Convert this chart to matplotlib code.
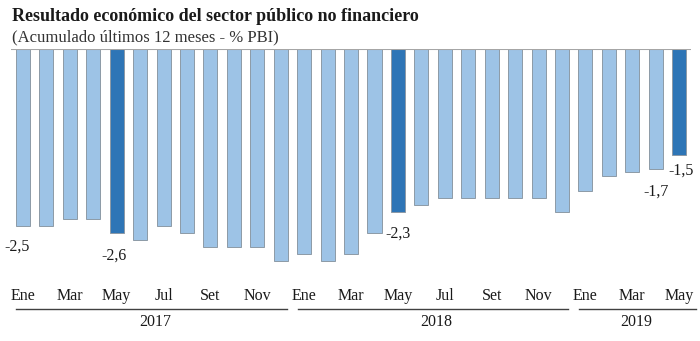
import numpy as np
import matplotlib.pyplot as plt

# Resultado económico del SPNF, acumulado 12 meses (% del PBI)
meses = ['Ene', 'Feb', 'Mar', 'Abr', 'May', 'Jun', 'Jul', 'Ago', 'Set', 'Oct', 'Nov', 'Dic',
         'Ene', 'Feb', 'Mar', 'Abr', 'May', 'Jun', 'Jul', 'Ago', 'Set', 'Oct', 'Nov', 'Dic',
         'Ene', 'Feb', 'Mar', 'Abr', 'May']
valores = [-2.5, -2.5, -2.4, -2.4, -2.6, -2.7, -2.5, -2.6, -2.8, -2.8, -2.8, -3.0,
           -2.9, -3.0, -2.9, -2.6, -2.3, -2.2, -2.1, -2.1, -2.1, -2.1, -2.1, -2.3,
           -2.0, -1.8, -1.73, -1.7, -1.5]
destacados = [4, 16, 28]            # meses de mayo
etiquetas = {0: '-2,5', 4: '-2,6', 16: '-2,3', 27: '-1,7', 28: '-1,5'}
anios = ['2017', '2018', '2019']
anio_rango = [(0, 11), (12, 23), (24, 28)]

plt.rcParams['font.family'] = ['Liberation Serif', 'DejaVu Serif']

fig = plt.figure(figsize=(7, 3.41), dpi=100)
ax = fig.add_axes([0.016, 0.1642, 0.971, 0.6921])

x = np.arange(len(valores))
colores = ['#2e75b6' if i in destacados else '#9dc3e6' for i in x]
ax.bar(x, valores, width=0.6, color=colores, edgecolor='#8d9aa6', linewidth=0.7, zorder=2)
ax.axhline(0, color='#a6a6a6', linewidth=1.5, zorder=3)

ax.set_xlim(-0.5, 28.5)
ax.set_ylim(-3.333, 0)
for s in ax.spines.values():
    s.set_visible(False)
ax.set_yticks([])
ax.set_xticks(x[::2])
ax.set_xticklabels(meses[::2], fontsize=11.5, color='#1a1a1a')
ax.tick_params(axis='x', length=0, pad=2)

# etiquetas de valor bajo algunas barras
desplaz = {0: (-4, -15), 4: (-2, -16), 16: (0, -16), 27: (0, -16), 28: (1, -11)}
for i, txt in etiquetas.items():
    ax.annotate(txt, (i, valores[i]), xytext=desplaz[i], textcoords='offset points',
                ha='center', va='center', fontsize=11.5, color='#1a1a1a')

# separadores y rótulos de año
trans = ax.get_xaxis_transform()
for anio, (a, b) in zip(anios, anio_rango):
    ax.plot([a - 0.28, b + 0.25 if b < 28 else b + 0.7], [-0.102, -0.102], transform=trans,
            color='#404040', linewidth=1, clip_on=False)
    ax.text((a + b) / 2 + 0.15, -0.158, anio, transform=trans, ha='center', va='center',
            fontsize=11.5, color='#1a1a1a')

fig.text(0.017, 0.953, 'Resultado económico del sector público no financiero',
         fontsize=13, fontweight='bold', color='#1a1a1a', va='center')
fig.text(0.017, 0.89, '(Acumulado últimos 12 meses - % PBI)',
         fontsize=12, color='#333333', va='center')

fig.savefig('out.png', dpi=100)
